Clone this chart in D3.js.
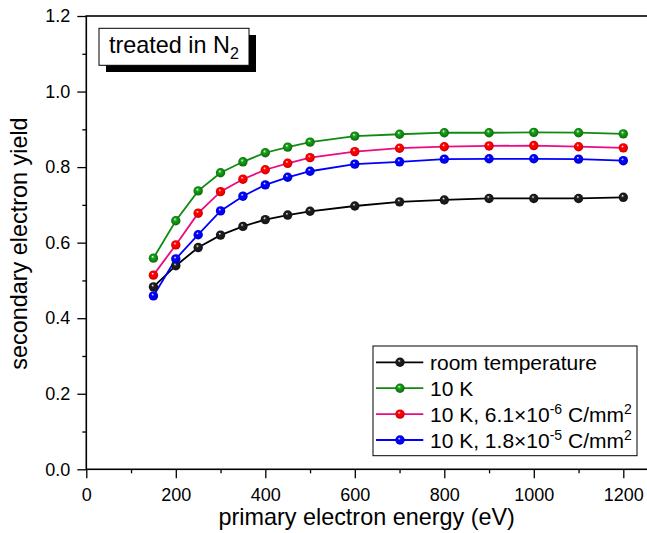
<!DOCTYPE html>
<html>
<head>
<meta charset="utf-8">
<script src="https://cdn.jsdelivr.net/npm/d3@7"></script>
<style>
  html, body { margin: 0; padding: 0; background: #fff; }
  svg { display: block; }
  text { font-family: "Liberation Sans", Arial, Helvetica, sans-serif; fill: #000; }
</style>
</head>
<body>
<svg id="chart" width="647" height="533"></svg>
<script>
// Primary electron energy (eV)
const energies = [150, 200, 250, 300, 350, 400, 450, 500, 600, 700, 800, 900, 1000, 1100, 1200];

// Secondary electron yield per condition
const roomTemp = [0.483, 0.539, 0.587, 0.620, 0.643, 0.661, 0.673, 0.683, 0.697, 0.708, 0.713, 0.717, 0.717, 0.717, 0.720];
const cold10K  = [0.559, 0.658, 0.737, 0.785, 0.814, 0.838, 0.853, 0.866, 0.882, 0.887, 0.891, 0.891, 0.892, 0.891, 0.888];
const dose61   = [0.514, 0.594, 0.678, 0.735, 0.768, 0.793, 0.810, 0.825, 0.841, 0.850, 0.854, 0.856, 0.857, 0.854, 0.851];
const dose18   = [0.459, 0.557, 0.621, 0.684, 0.723, 0.753, 0.773, 0.789, 0.808, 0.814, 0.821, 0.822, 0.822, 0.821, 0.817];

const xMajorTicks = [0, 200, 400, 600, 800, 1000, 1200];
const xMinorTicks = [100, 300, 500, 700, 900, 1100];
const yMajorTicks = [0.0, 0.2, 0.4, 0.6, 0.8, 1.0, 1.2];
const yMinorTicks = [0.1, 0.3, 0.5, 0.7, 0.9, 1.1];

const series = [
  { key: "rt",   values: roomTemp, line: "#000000", ball: "#1a1a1a", label: [["room temperature"]] },
  { key: "k10",  values: cold10K,  line: "#118a11", ball: "#138c13", label: [["10 K"]] },
  { key: "d61",  values: dose61,   line: "#ee0a80", ball: "#ff0000", label: [["10 K, 6.1×10"], ["-6", "sup"], [" C/mm"], ["2", "sup"]] },
  { key: "d18",  values: dose18,   line: "#0000ff", ball: "#0000ff", label: [["10 K, 1.8×10"], ["-5", "sup"], [" C/mm"], ["2", "sup"]] }
];

const svg = d3.select("#chart");
const plotLeft = 86.3, plotTop = 16, plotBottom = 469.3;
const x = d3.scaleLinear().domain([0, 1300]).range([plotLeft, plotLeft + 1300 * 0.4475]);
const y = d3.scaleLinear().domain([0, 1.2]).range([plotBottom, plotTop]);

// Ball marker gradients
const defs = svg.append("defs");
series.forEach(s => {
  const g = defs.append("radialGradient")
    .attr("id", "ball-" + s.key)
    .attr("cx", "0.5").attr("cy", "0.5").attr("r", "0.55")
    .attr("fx", "0.4").attr("fy", "0.32");
  const base = d3.color(s.ball);
  g.append("stop").attr("offset", "0%").attr("stop-color", "#ffffff");
  g.append("stop").attr("offset", "28%").attr("stop-color", base.brighter(0.6).formatHex());
  g.append("stop").attr("offset", "55%").attr("stop-color", base.formatHex());
  g.append("stop").attr("offset", "100%").attr("stop-color", base.darker(0.9).formatHex());
});

// Axis ticks
function styleAxis(g) {
  g.select(".domain").remove();
  g.selectAll(".tick line").attr("stroke", "#000").attr("stroke-width", 1.3);
  g.selectAll(".tick text").style("font-size", "18px").attr("fill", "#000");
}

svg.append("g").attr("transform", `translate(0,${plotBottom})`)
  .call(d3.axisBottom(x).tickValues(xMajorTicks).tickSize(9).tickPadding(10).tickFormat(d3.format("d")))
  .call(styleAxis);
svg.append("g").attr("transform", `translate(0,${plotBottom})`)
  .call(d3.axisBottom(x).tickValues(xMinorTicks).tickSize(4).tickFormat(""))
  .call(styleAxis);
svg.append("g").attr("transform", `translate(${plotLeft},0)`)
  .call(d3.axisLeft(y).tickValues(yMajorTicks).tickSize(9).tickPadding(7).tickFormat(d3.format(".1f")))
  .call(styleAxis);
svg.append("g").attr("transform", `translate(${plotLeft},0)`)
  .call(d3.axisLeft(y).tickValues(yMinorTicks).tickSize(4).tickFormat(""))
  .call(styleAxis);

// Plot frame
svg.append("rect")
  .attr("x", plotLeft).attr("y", plotTop)
  .attr("width", x(1300) - plotLeft).attr("height", plotBottom - plotTop)
  .attr("fill", "none").attr("stroke", "#000").attr("stroke-width", 1.6);

// Axis titles
svg.append("text")
  .attr("x", 366.7).attr("y", 525)
  .attr("text-anchor", "middle")
  .style("font-size", "23.4px")
  .text("primary electron energy (eV)");
svg.append("text")
  .attr("transform", "translate(27,243.5) rotate(-90)")
  .attr("text-anchor", "middle")
  .style("font-size", "23.4px")
  .text("secondary electron yield");

// Series lines and markers
const line = d3.line().x((d, i) => x(energies[i])).y(d => y(d));
series.forEach(s => {
  svg.append("path")
    .datum(s.values)
    .attr("d", line)
    .attr("fill", "none")
    .attr("stroke", s.line)
    .attr("stroke-width", 1.8);
});
series.forEach(s => {
  svg.append("g").selectAll("circle")
    .data(s.values)
    .join("circle")
    .attr("cx", (d, i) => x(energies[i]))
    .attr("cy", d => y(d))
    .attr("r", 4.7)
    .attr("fill", `url(#ball-${s.key})`);
});

// Annotation box with drop shadow
const ann = svg.append("g");
ann.append("rect").attr("x", 106).attr("y", 35).attr("width", 150).attr("height", 37).attr("fill", "#000");
ann.append("rect").attr("x", 99).attr("y", 28.3).attr("width", 150).attr("height", 37)
  .attr("fill", "#fff").attr("stroke", "#000").attr("stroke-width", 1);
const annText = ann.append("text").attr("x", 109).attr("y", 53.3).style("font-size", "23.4px");
annText.append("tspan").text("treated in N");
annText.append("tspan").attr("dy", 6).style("font-size", "16px").text("2");

// Legend
const legend = svg.append("g");
legend.append("rect")
  .attr("x", 373).attr("y", 346).attr("width", 264).attr("height", 109.7)
  .attr("fill", "#fff").attr("stroke", "#000").attr("stroke-width", 1);
series.forEach((s, i) => {
  const cy = 362.3 + i * 25.9;
  legend.append("line")
    .attr("x1", 376).attr("x2", 423.3).attr("y1", cy).attr("y2", cy)
    .attr("stroke", s.line).attr("stroke-width", 1.8);
  legend.append("circle")
    .attr("cx", 400).attr("cy", cy).attr("r", 4.7)
    .attr("fill", `url(#ball-${s.key})`);
  const t = legend.append("text").attr("x", 430).attr("y", cy + 7.5).style("font-size", "21px");
  let raised = false;
  s.label.forEach(([str, kind]) => {
    const ts = t.append("tspan").text(str);
    if (kind === "sup") {
      ts.attr("dy", -8).style("font-size", "14px");
      raised = true;
    } else if (raised) {
      ts.attr("dy", 8);
      raised = false;
    }
  });
});
</script>
</body>
</html>
